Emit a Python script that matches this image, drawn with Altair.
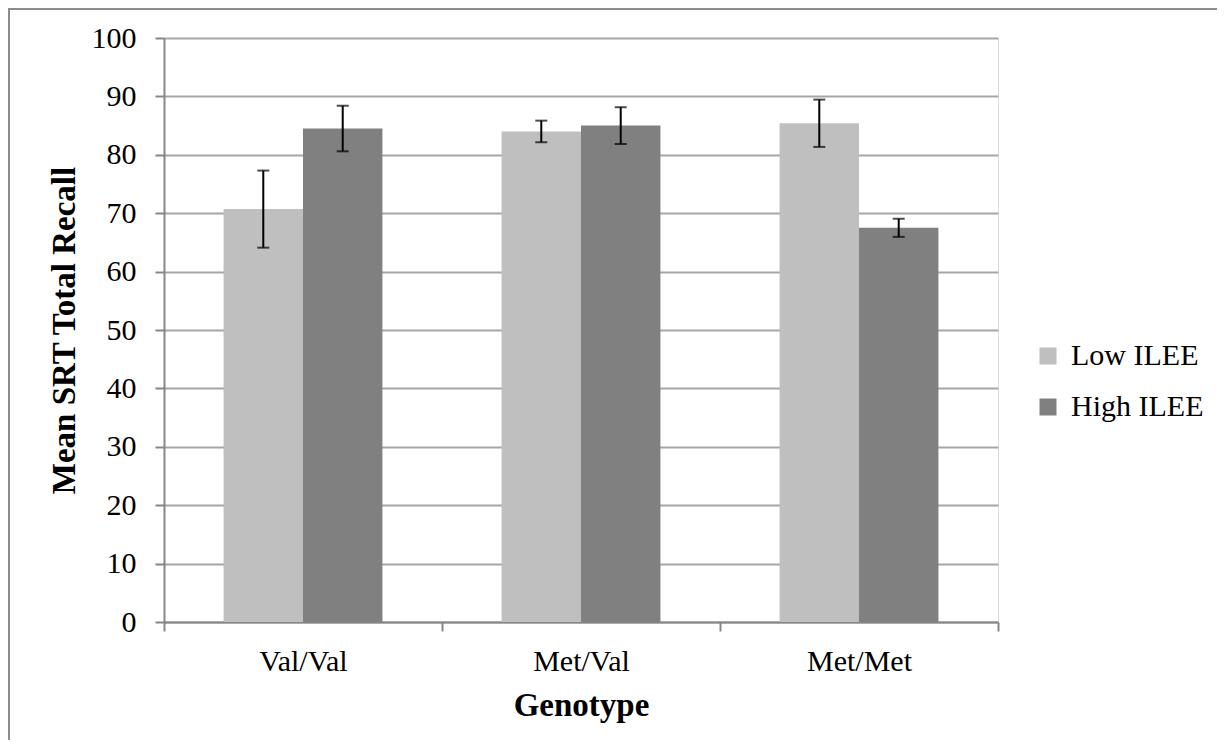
import altair as alt
import pandas as pd

genotypes = ["Val/Val", "Met/Val", "Met/Met"]
groups = ["Low ILEE", "High ILEE"]
low_mean = [70.7, 84.0, 85.4]
low_err = [6.6, 1.85, 4.05]
high_mean = [84.5, 85.0, 67.5]
high_err = [3.9, 3.15, 1.55]
colors = ["#BFBFBF", "#808080"]

rows = []
for i, g in enumerate(genotypes):
    rows.append({"genotype": g, "group": groups[0], "mean": low_mean[i],
                 "lo": low_mean[i] - low_err[i], "hi": low_mean[i] + low_err[i]})
    rows.append({"genotype": g, "group": groups[1], "mean": high_mean[i],
                 "lo": high_mean[i] - high_err[i], "hi": high_mean[i] + high_err[i]})
df = pd.DataFrame(rows)

FONT = "Liberation Serif"
W, H = 834, 584

x_enc = alt.X("genotype:N", sort=genotypes,
              scale=alt.Scale(paddingInner=0, paddingOuter=0),
              axis=alt.Axis(title="Genotype", tickBand="extent", labelAngle=0,
                            labelFontSize=30, labelFont=FONT, labelColor="black",
                            labelPadding=15, tickSize=9, tickColor="#868686",
                            tickWidth=2, domainColor="#868686", domainWidth=2,
                            titleFont=FONT, titleFontSize=33, titleFontWeight="bold",
                            titleColor="black", titlePadding=13, grid=False))
xo_enc = alt.XOffset("group:N", sort=groups,
                     scale=alt.Scale(paddingInner=0, paddingOuter=0.75))

y_scale = alt.Scale(domain=[0, 100])

bars = alt.Chart(df).mark_bar().encode(
    x=x_enc,
    xOffset=xo_enc,
    y=alt.Y("mean:Q", scale=y_scale,
            axis=alt.Axis(title="Mean SRT Total Recall", values=list(range(0, 101, 10)),
                          labelFontSize=30, labelFont=FONT, labelColor="black",
                          labelPadding=19, tickSize=9, tickColor="#868686", tickWidth=2,
                          domainColor="#868686", domainWidth=2,
                          gridColor="#A6A6A6", gridWidth=2,
                          titleFont=FONT, titleFontSize=33, titleFontWeight="bold",
                          titleColor="black", titlePadding=10)),
    color=alt.Color("group:N", sort=groups,
                    scale=alt.Scale(domain=groups, range=colors),
                    legend=alt.Legend(title=None, orient="none", legendX=869, legendY=303,
                                      symbolType="square", symbolSize=289,
                                      symbolStrokeWidth=0, labelFont=FONT,
                                      labelFontSize=30, labelColor="black",
                                      labelOffset=8, rowPadding=21, padding=0)),
)

rules = alt.Chart(df).mark_rule(color="black", strokeWidth=2).encode(
    x=alt.X("genotype:N", sort=genotypes),
    xOffset=alt.XOffset("group:N", sort=groups),
    y="lo:Q",
    y2="hi:Q",
)
tick_lo = alt.Chart(df).mark_tick(color="black", thickness=2, size=12).encode(
    x=alt.X("genotype:N", sort=genotypes),
    xOffset=alt.XOffset("group:N", sort=groups),
    y="lo:Q",
)
tick_hi = alt.Chart(df).mark_tick(color="black", thickness=2, size=12).encode(
    x=alt.X("genotype:N", sort=genotypes),
    xOffset=alt.XOffset("group:N", sort=groups),
    y="hi:Q",
)

border = alt.Chart(pd.DataFrame({"a": [0]})).mark_rect(
    fill=None, stroke="#8C8C8C", strokeWidth=2).encode(
    x=alt.value(-155), x2=alt.value(W + 400),
    y=alt.value(-29), y2=alt.value(H + 400),
)

chart = alt.layer(bars, rules, tick_lo, tick_hi, border).properties(
    width=W, height=H,
    autosize=alt.AutoSizeParams(type="none"),
    padding={"left": 156, "top": 30, "right": 219, "bottom": 118},
).configure_view(stroke=None).configure(background="white")

chart.save("out.html", embed_options={"renderer": "svg", "actions": False})
